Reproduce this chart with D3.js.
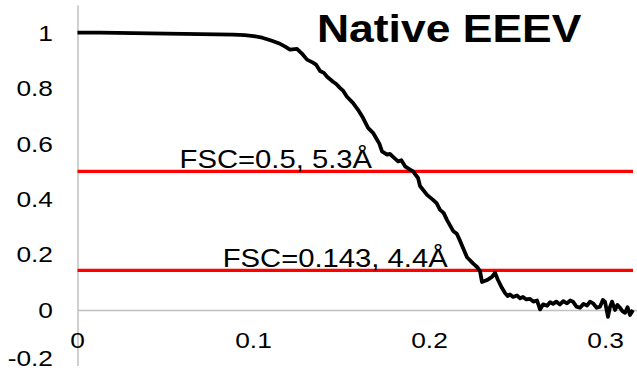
<!DOCTYPE html>
<html>
<head>
<meta charset="utf-8">
<script src="https://cdn.jsdelivr.net/npm/d3@7"></script>
<style>
  html, body { margin: 0; padding: 0; background: #fff; }
  svg { display: block; }
  text { font-family: "Liberation Sans", Arial, sans-serif; fill: #000; }
</style>
</head>
<body>
<script>
// ---- data ----
const titleText = "Native EEEV";
const spatialFreq = [0, 0.0128, 0.0412, 0.0696, 0.0884, 0.095, 0.1, 0.105, 0.11, 0.1151, 0.118, 0.1207, 0.1247, 0.1275,
  0.1304, 0.1338, 0.1355, 0.1378, 0.14, 0.1418, 0.1452, 0.147, 0.1491, 0.151, 0.1531, 0.1565, 0.1594, 0.1622, 0.1651,
  0.1679, 0.1702, 0.1715, 0.173, 0.1759, 0.1775, 0.1793, 0.1821, 0.184, 0.1861, 0.1885, 0.1906, 0.1935,
  0.1946, 0.1986, 0.202, 0.204, 0.206, 0.208, 0.2099, 0.2134, 0.2155, 0.2173, 0.2213, 0.2247, 0.227, 0.2287, 0.2298,
  0.2327, 0.2355, 0.2372, 0.2389, 0.2412, 0.2429, 0.2445, 0.2457, 0.2475, 0.2497, 0.2515, 0.2531, 0.255, 0.2571,
  0.259, 0.2611, 0.2628, 0.2645, 0.2668, 0.2685, 0.2702, 0.272, 0.2741, 0.276, 0.2781, 0.28, 0.2815, 0.2835,
  0.2855, 0.2875, 0.2895, 0.2912, 0.2929, 0.295, 0.2969, 0.2985, 0.2997, 0.3014, 0.3025, 0.3037, 0.3054, 0.3068,
  0.3082, 0.3097, 0.3111, 0.3125, 0.3139, 0.3156];
const fscValues = [1.0, 1.0, 0.998, 0.995, 0.993, 0.991, 0.988, 0.982, 0.972, 0.96, 0.95, 0.939, 0.942, 0.925,
  0.903, 0.892, 0.885, 0.862, 0.855, 0.841, 0.823, 0.815, 0.801, 0.79, 0.769, 0.747, 0.722, 0.693, 0.657,
  0.639, 0.614, 0.6, 0.572, 0.56, 0.563, 0.552, 0.536, 0.54, 0.518, 0.508, 0.5, 0.476,
  0.447, 0.415, 0.397, 0.385, 0.361, 0.35, 0.325, 0.285, 0.275, 0.25, 0.19, 0.168, 0.155, 0.14, 0.101,
  0.108, 0.119, 0.134, 0.108, 0.079, 0.061, 0.05, 0.056, 0.047, 0.052, 0.042, 0.047, 0.038, 0.04,
  0.03, 0.034, 0.002, 0.02, 0.015, 0.028, 0.022, 0.03, 0.02, 0.032, 0.024, 0.034, 0.03, 0.012,
  0.008, 0.022, 0.016, 0.03, 0.024, 0.008, 0.012, 0.036, 0.03, -0.025, 0.01, 0.03, 0.0, 0.018,
  0.008, -0.005, -0.01, 0.01, -0.018, 0.0];
const thresholdValues = [0.5, 0.143];
const thresholdLabels = ["FSC=0.5, 5.3Å", "FSC=0.143, 4.4Å"];
const thresholdLabelX = [0.058, 0.0825];
const yTicks = [-0.2, 0, 0.2, 0.4, 0.6, 0.8, 1];
const yTickLabels = ["-0.2", "0", "0.2", "0.4", "0.6", "0.8", "1"];
const xTicks = [0, 0.1, 0.2, 0.3];
const xTickLabels = ["0", "0.1", "0.2", "0.3"];
const xDomain = [0, 0.3176];
const yDomain = [-0.2, 1.1];

// ---- layout ----
const W = 637, H = 376;
const SX = 1.17; // horizontal stretch of text in the reference
const svg = d3.select("body").append("svg").attr("width", W).attr("height", H);

const x = d3.scaleLinear().domain(xDomain).range([77.5, 636.5]);
const y = d3.scaleLinear().domain(yDomain).range([365.4, 5]);

function addText(px, py, str, size, anchor, weight) {
  svg.append("text")
    .attr("transform", `translate(${px},${py}) scale(${SX},1)`)
    .attr("text-anchor", anchor)
    .style("font-size", size + "px")
    .style("font-weight", weight || "normal")
    .text(str);
}

// axes lines (via d3 axes, without tick marks)
const axisColor = "#c0c0c0";
const yAxisG = svg.append("g").attr("transform", `translate(${x(0)},0)`)
  .call(d3.axisLeft(y).tickValues([]).tickSizeOuter(0));
yAxisG.select(".domain").attr("stroke", axisColor).attr("stroke-width", 1.5);
const xAxisG = svg.append("g").attr("transform", `translate(0,${y(0)})`)
  .call(d3.axisBottom(x).tickValues([]).tickSizeOuter(0));
xAxisG.select(".domain").attr("stroke", axisColor).attr("stroke-width", 1.5);

// tick labels
yTicks.forEach((t, i) => {
  const base = Math.min(y(t) + 7.9, 366);
  addText(53, base, yTickLabels[i], 22.5, "end");
});
xTicks.forEach((t, i) => {
  addText(x(t), 348, xTickLabels[i], 22.5, "middle");
});

// threshold lines
thresholdValues.forEach((v, i) => {
  svg.append("line")
    .attr("x1", x(0)).attr("x2", x(spatialFreq[spatialFreq.length - 1]))
    .attr("y1", y(v)).attr("y2", y(v))
    .attr("stroke", "#ff0000").attr("stroke-width", 3.2);
});

// FSC curve
const line = d3.line().x((d, i) => x(spatialFreq[i])).y(d => y(d));
svg.append("path")
  .datum(fscValues)
  .attr("d", line)
  .attr("fill", "none")
  .attr("stroke", "#000")
  .attr("stroke-width", 3.8)
  .attr("stroke-linejoin", "round");

// threshold labels
thresholdValues.forEach((v, i) => {
  addText(x(thresholdLabelX[i]), y(v) - 3.5, thresholdLabels[i], 25, "start");
});

// title
addText(317, 42, titleText, 38, "start", "bold");
</script>
</body>
</html>
